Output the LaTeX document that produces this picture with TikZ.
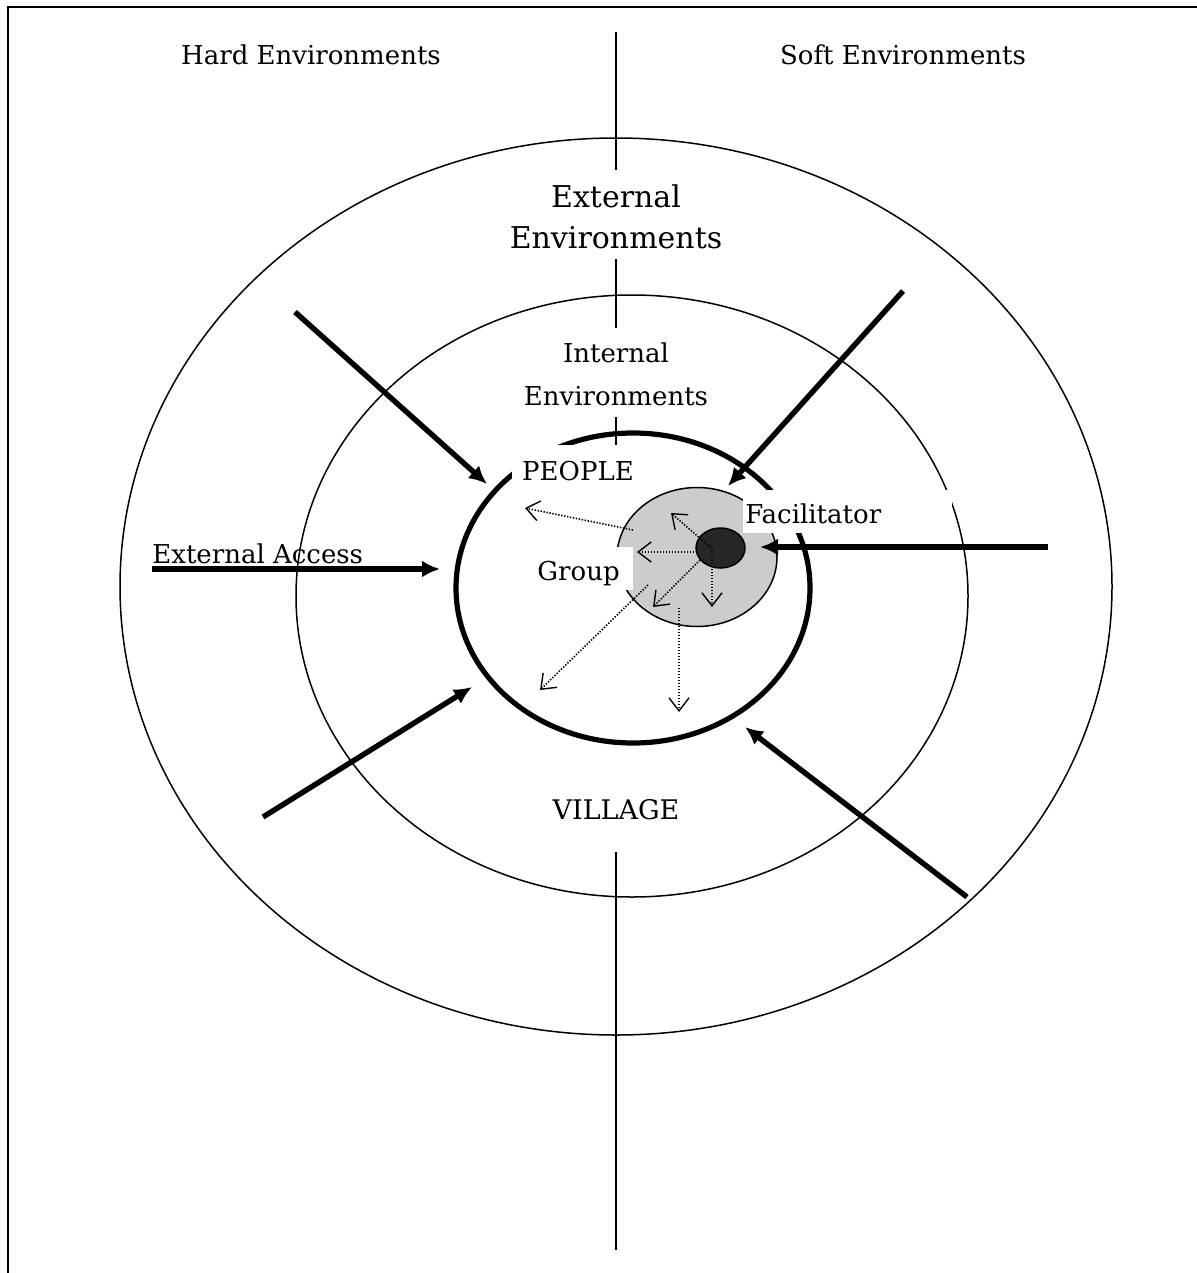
\documentclass[tikz,border=0pt]{standalone}
\usepackage{fontspec}
\setmainfont{DejaVu Serif}
\usetikzlibrary{arrows.meta,shapes.geometric}
\definecolor{grpgray}{RGB}{204,204,204}
\definecolor{facdark}{RGB}{38,38,38}
\begin{document}
\begin{tikzpicture}[x=0.5pt,y=-0.5pt,
  ring/.style={ellipse, draw, line width=0.75pt, inner sep=0pt, outer sep=0pt},
  divider/.style={line width=0.75pt},
  bigarrow/.style={line width=2.7pt, -{Latex[length=9pt,width=8.5pt]}},
  ray/.style={line width=0.8pt, dash pattern=on 0.7pt off 0.8pt,
    -{Straight Barb[length=6.5pt,width=10pt,line width=0.7pt]}},
  lbl/.style={inner sep=0pt, font=\fontsize{13}{15}\selectfont},
  biglbl/.style={inner sep=0pt, font=\fontsize{15}{18}\selectfont},
  toplbl/.style={inner sep=0pt, font=\fontsize{13}{15}\selectfont},
  whitebox/.style={fill=white, inner sep=0pt, draw=none}
]
\useasboundingbox (0,0) rectangle (1197,1273);

% frame
\coordinate (frTR) at (1197,7);
\coordinate (frTL) at (8,7);
\coordinate (frBL) at (8,1273);
\draw[line width=1.1pt] (frTR) -- (frTL) -- (frBL);

% divider line segments
\coordinate (d1a) at (616,32);  \coordinate (d1b) at (616,170);
\coordinate (d2a) at (616,259); \coordinate (d2b) at (616,328);
\coordinate (d3a) at (616,417); \coordinate (d3b) at (616,445);
\coordinate (d4a) at (616,852); \coordinate (d4b) at (616,1250);
\draw[divider] (d1a) -- (d1b);
\draw[divider] (d2a) -- (d2b);
\draw[divider] (d3a) -- (d3b);
\draw[divider] (d4a) -- (d4b);

% rings
\node[ring, minimum width=496pt, minimum height=448.5pt] (outer) at (616,586.5) {};
\node[ring, minimum width=336pt, minimum height=301pt] (inner) at (632,596) {};
\node[ring, line width=2.6pt, minimum width=177pt, minimum height=155pt] (people) at (633,588) {};

% group and facilitator
\node[ring, fill=grpgray, minimum width=80pt, minimum height=69.5pt] (group) at (697,557) {};
\node[ring, fill=facdark, minimum width=24.5pt, minimum height=20pt] (fac) at (720.5,548) {};

% dotted rays
\coordinate (r1s) at (633,530); \coordinate (r1e) at (525,508);
\coordinate (r2s) at (710,547); \coordinate (r2e) at (671,513);
\coordinate (r3s) at (697,552); \coordinate (r3e) at (637,552);
\coordinate (r4s) at (700,560); \coordinate (r4e) at (653,607);
\coordinate (r5s) at (712,548); \coordinate (r5e) at (712,607);
\coordinate (r6s) at (648,585); \coordinate (r6e) at (540,690);
\coordinate (r7s) at (679,608); \coordinate (r7e) at (679,712);
\draw[ray] (r1s) -- (r1e);
\draw[ray] (r2s) -- (r2e);
\draw[ray] (r3s) -- (r3e);
\draw[ray] (r4s) -- (r4e);
\draw[ray] (r5s) -- (r5e);
\draw[ray] (r6s) -- (r6e);
\draw[ray] (r7s) -- (r7e);

% thick arrows
\coordinate (a1s) at (295,312);  \coordinate (a1e) at (487,484);
\coordinate (a2s) at (903,291);  \coordinate (a2e) at (728,486);
\coordinate (a3s) at (152,569);  \coordinate (a3e) at (440,569);
\coordinate (a4s) at (1048,547); \coordinate (a4e) at (760,547);
\coordinate (a5s) at (263,817);  \coordinate (a5e) at (472,687);
\coordinate (a6s) at (967,897);  \coordinate (a6e) at (745,727);
\draw[bigarrow] (a1s) -- (a1e);
\draw[bigarrow] (a2s) -- (a2e);
\draw[bigarrow] (a3s) -- (a3e);
\draw[bigarrow] (a4s) -- (a4e);
\draw[bigarrow] (a5s) -- (a5e);
\draw[bigarrow] (a6s) -- (a6e);

% white label boxes
\node[whitebox, minimum width=66.5pt, minimum height=22.5pt] (peoplebox) at (578.5,467.5) {};
\node[whitebox, minimum width=104.5pt, minimum height=21.5pt] (facbox) at (847.5,511.5) {};
\node[whitebox, minimum width=52.5pt, minimum height=21.5pt] (groupbox) at (580.5,568.5) {};

% labels
\node[toplbl, anchor=base] (hard) at (311,65) {Hard Environments};
\node[toplbl, anchor=base] (soft) at (903,65) {Soft Environments};
\node[biglbl, anchor=base] (ext1) at (616,207) {External};
\node[biglbl, anchor=base] (ext2) at (616,249) {Environments};
\node[lbl, anchor=base] (int1) at (616,362) {Internal};
\node[lbl, anchor=base] (int2) at (616,405) {Environments};
\node[lbl, anchor=base] (peoplelbl) at (578,480) {PEOPLE};
\node[lbl, anchor=base west] (faclbl) at (745,523) {Facilitator};
\node[lbl, anchor=base west] (grouplbl) at (537,580) {Group};
\node[lbl, anchor=base west] (access) at (152,563) {\underline{External Access}};
\node[lbl, anchor=base, font=\fontsize{13.5}{15}\selectfont] (village) at (616,819) {VILLAGE};
\end{tikzpicture}
\end{document}
